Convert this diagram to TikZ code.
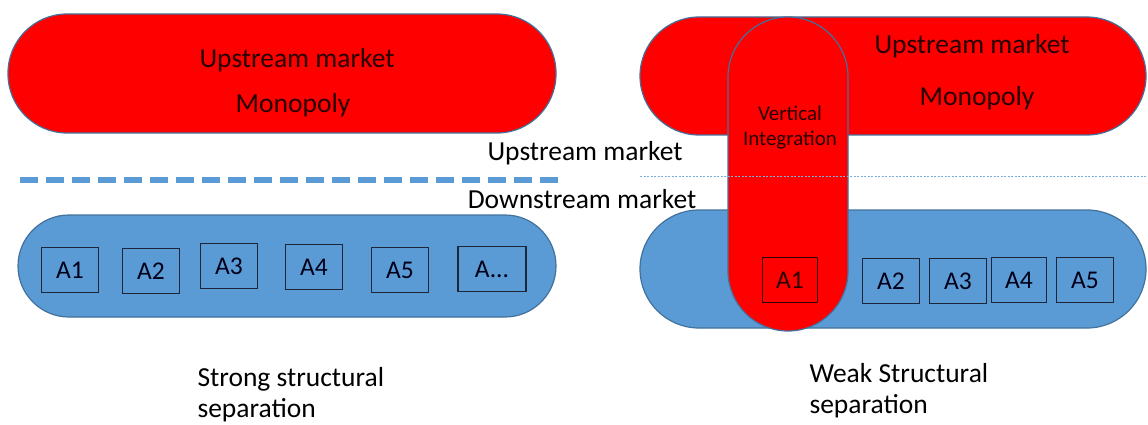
\documentclass[tikz,border=0pt]{standalone}
\usepackage{fontspec}
\setmainfont{Carlito}
\definecolor{mred}{HTML}{FF0000}
\definecolor{mblue}{HTML}{5B9BD5}
\definecolor{medge}{HTML}{41719C}
\definecolor{boxedge}{HTML}{1C2638}
\begin{document}
\begin{tikzpicture}[x=1pt,y=-1pt,
  redcap/.style={draw=medge, line width=1.2pt, fill=mred, rectangle, inner sep=0pt},
  bluecap/.style={draw=medge, line width=1.2pt, fill=mblue, rectangle, inner sep=0pt},
  abox/.style={draw=boxedge, line width=1.3pt, rectangle, inner sep=0pt, minimum width=57pt, minimum height=45pt, font=\fontsize{25.5}{27}\selectfont, text=black!90!blue},
  captext/.style={font=\fontsize{27.5}{30}\selectfont, text=black!85!red},
  midtext/.style={font=\fontsize{27.5}{30}\selectfont},
  bottext/.style={font=\fontsize{27.5}{31}\selectfont, align=left, anchor=north west}]
\useasboundingbox (0,0) rectangle (1148,425);
% left side
\node[redcap, rounded corners=59pt, minimum width=548pt, minimum height=119pt] (lup) at (282,73.5) {};
\node[captext] (lupt) at (297,60) {Upstream market};
\node[captext] (lmono) at (293,105) {Monopoly};
\coordinate (dashs) at (20,180);
\coordinate (dashe) at (560,180);
\draw[mblue, line width=6pt, dash pattern=on 18pt off 8pt] (dashs) -- (dashe);
\node[bluecap, rounded corners=51pt, minimum width=538pt, minimum height=102pt] (ldown) at (287,266) {};
\node[abox] (la1) at (70,270) {A1};
\node[abox] (la2) at (151,271) {A2};
\node[abox] (la3) at (229,266) {A3};
\node[abox] (la4) at (314,267) {A4};
\node[abox] (la5) at (400,270) {A5};
\node[abox, minimum width=68pt] (la6) at (492,269) {A...};
\node[midtext] (upm) at (585,153) {Upstream market};
\node[midtext] (downm) at (582,199) {Downstream market};
\node[bottext] (strong) at (194,364) {Strong structural\\separation};
% right side
\node[redcap, rounded corners=59pt, minimum width=506pt, minimum height=118pt] (rup) at (893,76) {};
\node[bluecap, rounded corners=59pt, minimum width=506pt, minimum height=118pt] (rdown) at (893,269) {};
\node[redcap, rounded corners=60pt, minimum width=120pt, minimum height=314pt] (vert) at (788,174) {};
\node[captext] (rupt) at (972,46) {Upstream market};
\node[captext] (rmono) at (977,98) {Monopoly};
\node[font=\fontsize{21}{25}\selectfont, align=center, text=black!85!red] (vint) at (790,128) {Vertical\\Integration};
\coordinate (dots) at (640,176);
\coordinate (dote) at (1148,176);
\draw[mblue!80, line width=0.6pt, dash pattern=on 2pt off 1.5pt] (dots) -- (dote);
\node[abox, draw=black!80!red, text=black!85!red, minimum width=55pt] (ra1) at (790,280) {A1};
\node[abox] (ra2) at (891,281) {A2};
\node[abox] (ra3) at (958,281) {A3};
\node[abox, minimum width=55pt] (ra4) at (1019,280) {A4};
\node[abox] (ra5) at (1085,280) {A5};
\node[bottext] (weak) at (806,360) {Weak Structural\\separation};
\end{tikzpicture}
\end{document}
